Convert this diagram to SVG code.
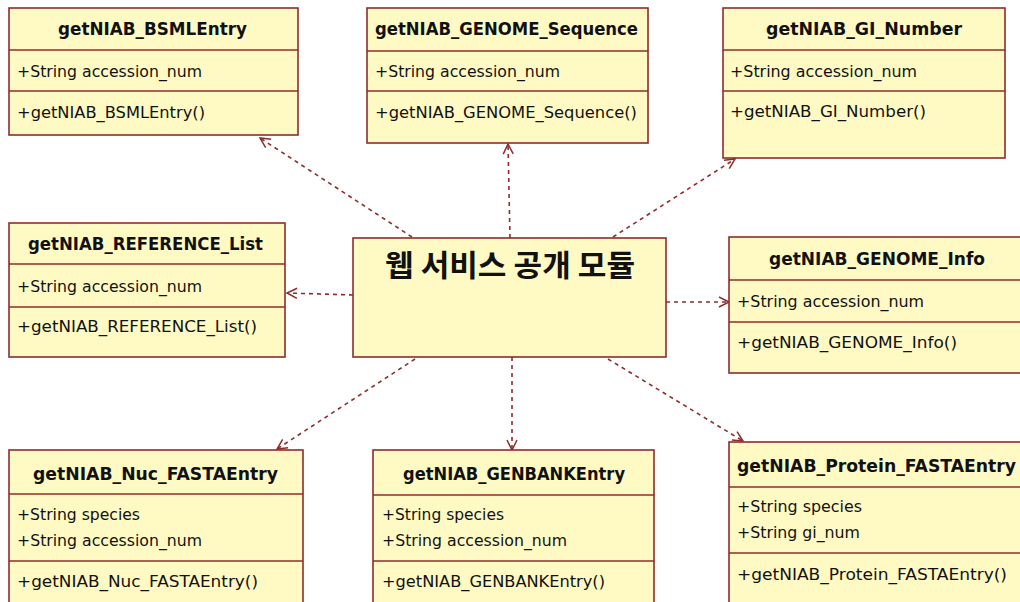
<svg xmlns="http://www.w3.org/2000/svg" width="1020" height="602" viewBox="0 0 1020 602">
<style>
.box{fill:#FFFAC4;stroke:#8E2C2C;stroke-width:1.6}
.div{stroke:#8E2C2C;stroke-width:1.6}
.t{font-family:"DejaVu Sans","Liberation Sans",sans-serif;font-size:17px;font-weight:bold;fill:#111}
.a{font-family:"DejaVu Sans","Liberation Sans",sans-serif;font-size:16px;fill:#111}
.k{font-family:"Noto Sans CJK KR",sans-serif;font-size:30px;font-weight:bold;fill:#111}
.c{fill:none;stroke:#8E2C2C;stroke-width:1.6;stroke-dasharray:4 4}
</style>
<defs>
<marker id="open" markerUnits="userSpaceOnUse" markerWidth="14" markerHeight="14" refX="11" refY="6" orient="auto" viewBox="0 0 14 12">
<path d="M1,1 L11,6 L1,11" fill="none" stroke="#8E2C2C" stroke-width="1.5"/>
</marker>
</defs>
<rect width="1020" height="602" fill="#fff"/>

<g id="connectors">
<line class="c" x1="412" y1="237" x2="260" y2="138" marker-end="url(#open)"/>
<line class="c" x1="510" y1="238" x2="508" y2="144" marker-end="url(#open)"/>
<line class="c" x1="613" y1="237" x2="735" y2="159" marker-end="url(#open)"/>
<line class="c" x1="353" y1="295" x2="287" y2="293" marker-end="url(#open)"/>
<line class="c" x1="666" y1="302" x2="729" y2="302" marker-end="url(#open)"/>
<line class="c" x1="415" y1="359" x2="277" y2="449" marker-end="url(#open)"/>
<line class="c" x1="512" y1="357" x2="512" y2="450" marker-end="url(#open)"/>
<line class="c" x1="608" y1="359" x2="743" y2="441" marker-end="url(#open)"/>
</g>

<g id="bsml">
<rect class="box" x="9" y="8" width="289" height="127"/>
<line class="div" x1="9" y1="50" x2="298" y2="50"/>
<line class="div" x1="9" y1="91" x2="298" y2="91"/>
<text class="t" x="58" y="35" textLength="189" lengthAdjust="spacingAndGlyphs">getNIAB_BSMLEntry</text>
<text class="a" x="17" y="77" textLength="185" lengthAdjust="spacingAndGlyphs">+String accession_num</text>
<text class="a" x="17" y="118" textLength="188" lengthAdjust="spacingAndGlyphs">+getNIAB_BSMLEntry()</text>
</g>

<g id="genome_seq">
<rect class="box" x="367" y="8" width="281" height="135"/>
<line class="div" x1="367" y1="51" x2="648" y2="51"/>
<line class="div" x1="367" y1="91" x2="648" y2="91"/>
<text class="t" x="375" y="35" textLength="263" lengthAdjust="spacingAndGlyphs">getNIAB_GENOME_Sequence</text>
<text class="a" x="375" y="77" textLength="185" lengthAdjust="spacingAndGlyphs">+String accession_num</text>
<text class="a" x="375" y="118" textLength="262" lengthAdjust="spacingAndGlyphs">+getNIAB_GENOME_Sequence()</text>
</g>

<g id="gi_number">
<rect class="box" x="723" y="8" width="282" height="150"/>
<line class="div" x1="723" y1="50" x2="1005" y2="50"/>
<line class="div" x1="723" y1="91" x2="1005" y2="91"/>
<text class="t" x="766" y="35" textLength="196" lengthAdjust="spacingAndGlyphs">getNIAB_GI_Number</text>
<text class="a" x="730" y="77" textLength="187" lengthAdjust="spacingAndGlyphs">+String accession_num</text>
<text class="a" x="730" y="117" textLength="196" lengthAdjust="spacingAndGlyphs">+getNIAB_GI_Number()</text>
</g>

<g id="reference_list">
<rect class="box" x="9" y="223" width="276" height="134"/>
<line class="div" x1="9" y1="264" x2="285" y2="264"/>
<line class="div" x1="9" y1="307" x2="285" y2="307"/>
<text class="t" x="28" y="250" textLength="235" lengthAdjust="spacingAndGlyphs">getNIAB_REFERENCE_List</text>
<text class="a" x="17" y="292" textLength="185" lengthAdjust="spacingAndGlyphs">+String accession_num</text>
<text class="a" x="17" y="332" textLength="240" lengthAdjust="spacingAndGlyphs">+getNIAB_REFERENCE_List()</text>
</g>

<g id="center">
<rect class="box" x="353" y="238" width="313" height="119"/>
<text class="k" x="385" y="276" textLength="250" lengthAdjust="spacingAndGlyphs">웹 서비스 공개 모듈</text>
</g>

<g id="genome_info">
<rect class="box" x="729" y="237" width="296" height="136"/>
<line class="div" x1="729" y1="280" x2="1025" y2="280"/>
<line class="div" x1="729" y1="322" x2="1025" y2="322"/>
<text class="t" x="769" y="265" textLength="216" lengthAdjust="spacingAndGlyphs">getNIAB_GENOME_Info</text>
<text class="a" x="737" y="307" textLength="187" lengthAdjust="spacingAndGlyphs">+String accession_num</text>
<text class="a" x="737" y="348" textLength="220" lengthAdjust="spacingAndGlyphs">+getNIAB_GENOME_Info()</text>
</g>

<g id="nuc_fasta">
<rect class="box" x="9" y="450" width="294" height="170"/>
<line class="div" x1="9" y1="494" x2="303" y2="494"/>
<line class="div" x1="9" y1="561" x2="303" y2="561"/>
<text class="t" x="33" y="480" textLength="245" lengthAdjust="spacingAndGlyphs">getNIAB_Nuc_FASTAEntry</text>
<text class="a" x="17" y="520" textLength="123" lengthAdjust="spacingAndGlyphs">+String species</text>
<text class="a" x="17" y="546" textLength="185" lengthAdjust="spacingAndGlyphs">+String accession_num</text>
<text class="a" x="17" y="587" textLength="241" lengthAdjust="spacingAndGlyphs">+getNIAB_Nuc_FASTAEntry()</text>
</g>

<g id="genbank">
<rect class="box" x="373" y="450" width="281" height="170"/>
<line class="div" x1="373" y1="495" x2="654" y2="495"/>
<line class="div" x1="373" y1="561" x2="654" y2="561"/>
<text class="t" x="403" y="480" textLength="222" lengthAdjust="spacingAndGlyphs">getNIAB_GENBANKEntry</text>
<text class="a" x="382" y="520" textLength="122" lengthAdjust="spacingAndGlyphs">+String species</text>
<text class="a" x="382" y="546" textLength="185" lengthAdjust="spacingAndGlyphs">+String accession_num</text>
<text class="a" x="382" y="587" textLength="223" lengthAdjust="spacingAndGlyphs">+getNIAB_GENBANKEntry()</text>
</g>

<g id="protein_fasta">
<rect class="box" x="729" y="442" width="300" height="180"/>
<line class="div" x1="729" y1="487" x2="1029" y2="487"/>
<line class="div" x1="729" y1="553" x2="1029" y2="553"/>
<text class="t" x="737" y="472" textLength="279" lengthAdjust="spacingAndGlyphs">getNIAB_Protein_FASTAEntry</text>
<text class="a" x="737" y="512" textLength="125" lengthAdjust="spacingAndGlyphs">+String species</text>
<text class="a" x="737" y="538" textLength="123" lengthAdjust="spacingAndGlyphs">+String gi_num</text>
<text class="a" x="737" y="580" textLength="270" lengthAdjust="spacingAndGlyphs">+getNIAB_Protein_FASTAEntry()</text>
</g>
</svg>
